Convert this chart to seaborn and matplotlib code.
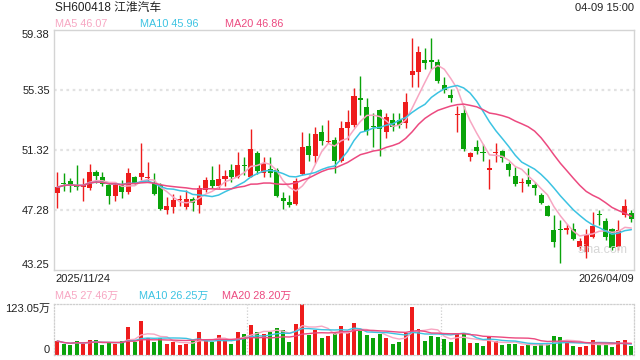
import numpy as np
import pandas as pd
import matplotlib
matplotlib.use("Agg")
import matplotlib.pyplot as plt
import seaborn as sns

# daily OHLC, 2025/11/24 .. 2026/04/09
opens = [48.40, 49.12, 49.26, 48.96, 48.81, 48.78, 49.86, 49.52, 48.96, 48.25,
         49.01, 48.52, 49.52, 49.52, 49.43, 49.08, 48.96, 47.28, 47.46, 47.93,
         47.50, 48.02, 47.64, 48.63, 49.30, 48.90, 49.37, 49.97, 49.52, 50.31,
         49.52, 51.10, 49.79, 50.04, 49.97, 48.11, 47.84, 47.68, 49.70, 51.59,
         50.92, 52.55, 51.86, 51.99, 50.60, 52.82, 53.00, 54.81, 54.19, 52.93,
         54.01, 52.55, 53.33, 53.30, 53.16, 56.36, 56.58, 57.37, 57.37, 57.21,
         55.69, 55.01, 53.67, 53.83, 50.83, 51.55, 51.19, 49.98, 51.09, 51.27,
         50.35, 49.57, 49.08, 49.30, 48.96, 48.29, 47.55, 45.94, 45.98, 45.94,
         45.98, 44.77, 44.48, 45.49, 47.01, 46.54, 45.98, 44.77, 46.95, 47.06]
highs = [49.86, 49.79, 49.46, 50.31, 49.46, 50.35, 49.97, 49.86, 49.19, 49.19,
         49.30, 50.13, 49.57, 51.81, 50.49, 49.75, 49.08, 48.18, 48.36, 48.29,
         48.63, 48.18, 48.96, 49.48, 50.24, 50.38, 49.97, 50.35, 51.21, 50.83,
         52.73, 51.28, 50.87, 50.87, 50.09, 48.47, 48.29, 49.41, 52.55, 52.49,
         52.89, 53.00, 53.34, 52.17, 53.29, 54.01, 55.46, 56.29, 54.79, 53.78,
         54.05, 53.78, 53.78, 53.80, 55.17, 58.82, 58.30, 58.15, 58.82, 57.41,
         56.25, 55.40, 54.28, 54.28, 51.21, 51.99, 51.70, 50.69, 51.76, 51.32,
         50.49, 50.20, 49.41, 50.08, 49.19, 48.45, 47.60, 46.95, 46.61, 46.32,
         46.39, 45.38, 45.98, 47.17, 47.28, 46.72, 46.05, 46.61, 48.00, 47.28]
lows = [47.39, 48.58, 48.52, 48.63, 47.91, 48.63, 49.08, 48.90, 47.68, 47.91,
        48.07, 48.36, 48.96, 49.30, 49.19, 48.29, 47.28, 46.99, 47.10, 47.53,
        47.35, 47.21, 47.06, 48.52, 48.74, 48.74, 48.90, 49.19, 49.41, 49.64,
        49.48, 49.70, 49.48, 49.52, 48.13, 47.35, 47.50, 47.62, 49.64, 50.60,
        50.47, 51.66, 51.77, 49.79, 50.53, 52.00, 52.89, 53.67, 52.33, 51.54,
        50.92, 52.10, 52.60, 52.80, 52.78, 55.53, 55.53, 56.74, 56.74, 55.84,
        55.13, 54.57, 52.55, 51.28, 50.60, 51.05, 50.60, 48.67, 50.53, 50.53,
        49.59, 48.90, 48.52, 48.90, 48.29, 47.69, 46.85, 44.77, 43.70, 45.67,
        45.27, 44.60, 44.03, 45.38, 46.27, 45.27, 44.60, 44.60, 46.84, 46.50]
closes = [48.81, 49.05, 49.05, 48.82, 48.96, 49.84, 49.59, 49.03, 48.25, 48.96,
          48.52, 49.75, 49.08, 49.79, 49.50, 48.36, 47.35, 47.55, 47.95, 47.97,
          48.00, 47.73, 48.74, 49.30, 48.90, 49.37, 49.57, 49.52, 50.31, 50.24,
          51.39, 49.93, 50.42, 49.79, 48.22, 47.91, 47.64, 49.23, 51.50, 50.98,
          52.40, 51.95, 51.95, 50.60, 52.78, 53.18, 54.95, 54.68, 52.60, 52.87,
          52.71, 53.51, 52.84, 53.00, 54.57, 56.65, 57.92, 57.19, 57.26, 55.98,
          55.35, 54.84, 53.74, 51.37, 51.10, 51.28, 51.10, 50.09, 51.20, 50.76,
          49.97, 49.01, 49.14, 49.01, 48.74, 47.73, 46.88, 45.16, 45.94, 46.05,
          45.31, 45.22, 45.60, 46.19, 46.94, 45.45, 44.71, 45.94, 47.55, 46.69]
# volume in 万 lots
volumes = [33.8, 26.5, 24.9, 33.8, 26.5, 37.0, 36.2, 24.1, 29.7, 26.5,
           34.6, 68.3, 30.6, 82.0, 40.2, 30.6, 40.2, 26.5, 31.4, 24.1,
           26.5, 33.8, 55.5, 33.8, 31.4, 48.2, 33.8, 26.5, 55.5, 50.7,
           72.4, 55.5, 50.7, 55.5, 65.1, 60.3, 31.4, 74.8, 123.05, 48.2,
           60.3, 41.8, 46.6, 52.3, 70.8, 52.3, 78.0, 57.9, 48.2, 41.8,
           50.7, 41.8, 26.5, 31.4, 53.9, 116.6, 62.7, 33.8, 45.8, 44.2,
           38.6, 31.4, 49.8, 50.7, 28.9, 28.9, 21.7, 44.2, 33.8, 24.1,
           27.4, 27.4, 22.6, 25.0, 21.0, 26.6, 27.4, 46.7, 44.3, 33.1,
           22.5, 20.0, 22.5, 35.0, 25.2, 24.5, 20.5, 34.0, 36.5, 21.8]

price_ticks = [43.25, 47.28, 51.32, 55.35, 59.38]
vol_ticks = [0, 123.05]
vol_tick_labels = ["0", "123.05万"]
title = "SH600418 江淮汽车"
stamp = "04-09 15:00"
first_day = "2025/11/24"
last_day = "2026/04/09"

UP = "#ee1c1c"
DOWN = "#0aa30a"
C5 = "#f7a6c2"
C10 = "#3cc3e2"
C20 = "#ec4a80"

df = pd.DataFrame({"open": opens, "high": highs, "low": lows,
                   "close": closes, "vol": volumes})
df["i"] = np.arange(len(df))
for n in (5, 10, 20):
    df[f"ma{n}"] = df["close"].rolling(n, min_periods=1).mean()
    df[f"vma{n}"] = df["vol"].rolling(n, min_periods=1).mean()
df["color"] = np.where(df["close"] >= df["open"], UP, DOWN)

sns.set_style("white")
plt.rcParams["font.family"] = ["Liberation Sans", "Noto Sans CJK SC"]

fig = plt.figure(figsize=(6.4, 3.6), dpi=100)
W, H = 640, 360
ax = fig.add_axes([54 / W, 1 - 270 / H, 580 / W, 240 / H])
axv = fig.add_axes([54 / W, 1 - 355 / H, 580 / W, 51 / H])

xlim = (-0.51, 89.41)

# candles
ax.vlines(df["i"], df["low"], df["high"], colors=df["color"], lw=1.0, zorder=2)
body_lo = np.minimum(df["open"], df["close"])
body_h = np.maximum((df["close"] - df["open"]).abs(), 0.06)
ax.bar(df["i"], body_h, bottom=body_lo, width=0.78, color=df["color"],
       lw=0, zorder=3)

for n, c in ((5, C5), (10, C10), (20, C20)):
    sns.lineplot(x=df["i"], y=df[f"ma{n}"], ax=ax, color=c, lw=1.1, zorder=4)

ax.set_xlim(*xlim)
ax.set_ylim(43.25, 59.38)
ax.set_yticks(price_ticks)
ax.set_yticklabels([f"{t:.2f}" for t in price_ticks])
ylabs = ax.get_yticklabels()
ylabs[0].set_va("bottom")
ylabs[-1].set_va("top")
ax.tick_params(axis="y", length=0, pad=3, labelsize=8, labelcolor="#222222")
ax.set_xticks([])
ax.set_xlabel("")
ax.set_ylabel("")
for t in price_ticks[1:-1]:
    ax.axhline(t, color="#e2e2e2", lw=1.6, ls=(0, (1.2, 1.6)), zorder=1)
for s in ax.spines.values():
    s.set_color("#d4d4d4")
    s.set_linewidth(1.0)
ax.text(0.946, 0.085, "sina.com", transform=ax.transAxes, ha="center",
        va="center", fontsize=9, color="#d6d6d6", zorder=5)

# volume
axv.bar(df["i"], df["vol"], width=0.62, color=df["color"], lw=0, zorder=2)
for n, c in ((5, C5), (10, C10), (20, C20)):
    sns.lineplot(x=df["i"], y=df[f"vma{n}"], ax=axv, color=c, lw=1.0, zorder=3)
axv.set_xlim(*xlim)
axv.set_ylim(0, 123.05)
axv.set_yticks(vol_ticks)
axv.set_yticklabels(vol_tick_labels)
vlabs = axv.get_yticklabels()
vlabs[0].set_va("bottom")
vlabs[-1].set_va("top")
axv.tick_params(axis="y", length=0, pad=3, labelsize=8, labelcolor="#222222")
axv.set_xticks([])
axv.set_xlabel("")
axv.set_ylabel("")
span = xlim[1] - xlim[0]
for k in (1, 2):
    axv.axvline(xlim[0] + span * k / 3, color="#cfcfcf", lw=0.9,
                ls=(0, (1, 1.5)), zorder=1)
for s in axv.spines.values():
    s.set_color("#cfcfcf")
    s.set_linestyle((0, (1, 1.5)))
    s.set_linewidth(0.9)

# header / legends
fig.text(55 / W, 1 - 8 / H, title, fontsize=8.5, va="center", color="#222222")
fig.text(634 / W, 1 - 8 / H, stamp, fontsize=8, va="center", ha="right",
         color="#222222")
last = df.iloc[-1]
fig.text(55 / W, 1 - 24 / H, f"MA5 {last['ma5']:.2f}", fontsize=7.8,
         va="center", color=C5)
fig.text(140 / W, 1 - 24 / H, f"MA10 {last['ma10']:.2f}", fontsize=7.8,
         va="center", color=C10)
fig.text(225 / W, 1 - 24 / H, f"MA20 {last['ma20']:.2f}", fontsize=7.8,
         va="center", color=C20)
fig.text(55 / W, 1 - 278.5 / H, first_day, fontsize=8, va="center",
         color="#222222")
fig.text(634 / W, 1 - 278.5 / H, last_day, fontsize=8, va="center",
         ha="right", color="#222222")
fig.text(55 / W, 1 - 295.5 / H, f"MA5 {last['vma5']:.2f}万", fontsize=7.8,
         va="center", color=C5)
fig.text(139 / W, 1 - 295.5 / H, f"MA10 {last['vma10']:.2f}万", fontsize=7.8,
         va="center", color=C10)
fig.text(222 / W, 1 - 295.5 / H, f"MA20 {last['vma20']:.2f}万", fontsize=7.8,
         va="center", color=C20)

fig.savefig("out.png", dpi=100)
